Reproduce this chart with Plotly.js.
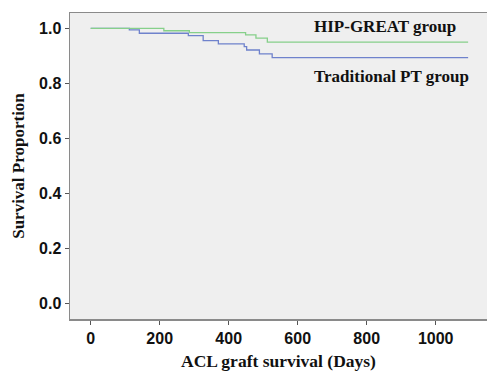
<!DOCTYPE html>
<html>
<head>
<meta charset="utf-8">
<script src="https://cdn.plot.ly/plotly-3.0.1.min.js"></script>
<style>html,body{margin:0;padding:0;background:#fff;}#chart{width:487px;height:371px;}</style>
</head>
<body>
<div id="chart"></div>
<script>
// Kaplan-Meier step data
const hipDays = [0, 212, 286, 449, 479, 512, 1094];
const hipSurv = [1.0, 0.991, 0.984, 0.976, 0.964, 0.950, 0.950];
const ptDays = [0, 112, 141, 283, 326, 370, 445, 452, 489, 526, 1094];
const ptSurv = [1.0, 0.994, 0.982, 0.973, 0.955, 0.943, 0.933, 0.921, 0.907, 0.893, 0.893];
const xTicks = [0, 200, 400, 600, 800, 1000];
const yTicks = [0, 0.2, 0.4, 0.6, 0.8, 1.0];
const groupLabels = ["HIP-GREAT group", "Traditional PT group"];
const xTitle = 'ACL graft survival (Days)';
const yTitle = 'Survival Proportion';

const traces = [
  {x: ptDays, y: ptSurv, mode: 'lines', line: {shape: 'hv', color: '#6f82cc', width: 1.3}, name: groupLabels[1], hoverinfo: 'skip'},
  {x: hipDays, y: hipSurv, mode: 'lines', line: {shape: 'hv', color: '#86d08a', width: 1.3}, name: groupLabels[0], hoverinfo: 'skip'}
];

const tickFont = {family: 'Liberation Sans, Arial, sans-serif', size: 16, color: '#111', weight: 'bold'};
const serifBold = {family: 'Liberation Serif, Times New Roman, serif', size: 17, color: '#111', weight: 'bold'};

const layout = {
  width: 487, height: 371,
  margin: {l: 70, r: 0, t: 13, b: 52},
  paper_bgcolor: '#ffffff',
  plot_bgcolor: '#efefef',
  showlegend: false,
  xaxis: {
    range: [-60, 1148.7],
    tickvals: xTicks,
    ticktext: xTicks.map(String),
    ticks: 'outside', ticklen: 4, tickwidth: 1, tickcolor: '#555',
    showgrid: false, zeroline: false,
    showline: true, linecolor: '#8a8a8a', linewidth: 1.5, mirror: true,
    tickfont: tickFont, automargin: false
  },
  yaxis: {
    range: [-0.057, 1.0556],
    tickvals: yTicks,
    ticktext: yTicks.map(v => v.toFixed(1)),
    ticks: 'outside', ticklen: 4, tickwidth: 1, tickcolor: '#555',
    showgrid: false, zeroline: false,
    showline: true, linecolor: '#8a8a8a', linewidth: 1.5,
    tickfont: tickFont, automargin: false,
    title: {text: yTitle, font: {family: 'Liberation Serif, Times New Roman, serif', size: 17, color: '#111', weight: 'bold'}, standoff: 10}
  },
  annotations: [
    {text: groupLabels[0], xref: 'x', yref: 'y', x: 640, y: 1.008, xanchor: 'left', yanchor: 'middle', showarrow: false, font: serifBold},
    {text: groupLabels[1], xref: 'x', yref: 'y', x: 640, y: 0.823, xanchor: 'left', yanchor: 'middle', showarrow: false, font: serifBold},
    {text: xTitle, xref: 'paper', yref: 'paper', x: 0.5, y: -0.137, xanchor: 'center', yanchor: 'middle', showarrow: false,
     font: {family: 'Liberation Serif, Times New Roman, serif', size: 17.5, color: '#111', weight: 'bold'}}
  ]
};

Plotly.newPlot('chart', traces, layout, {staticPlot: true, displayModeBar: false});
</script>
</body>
</html>
